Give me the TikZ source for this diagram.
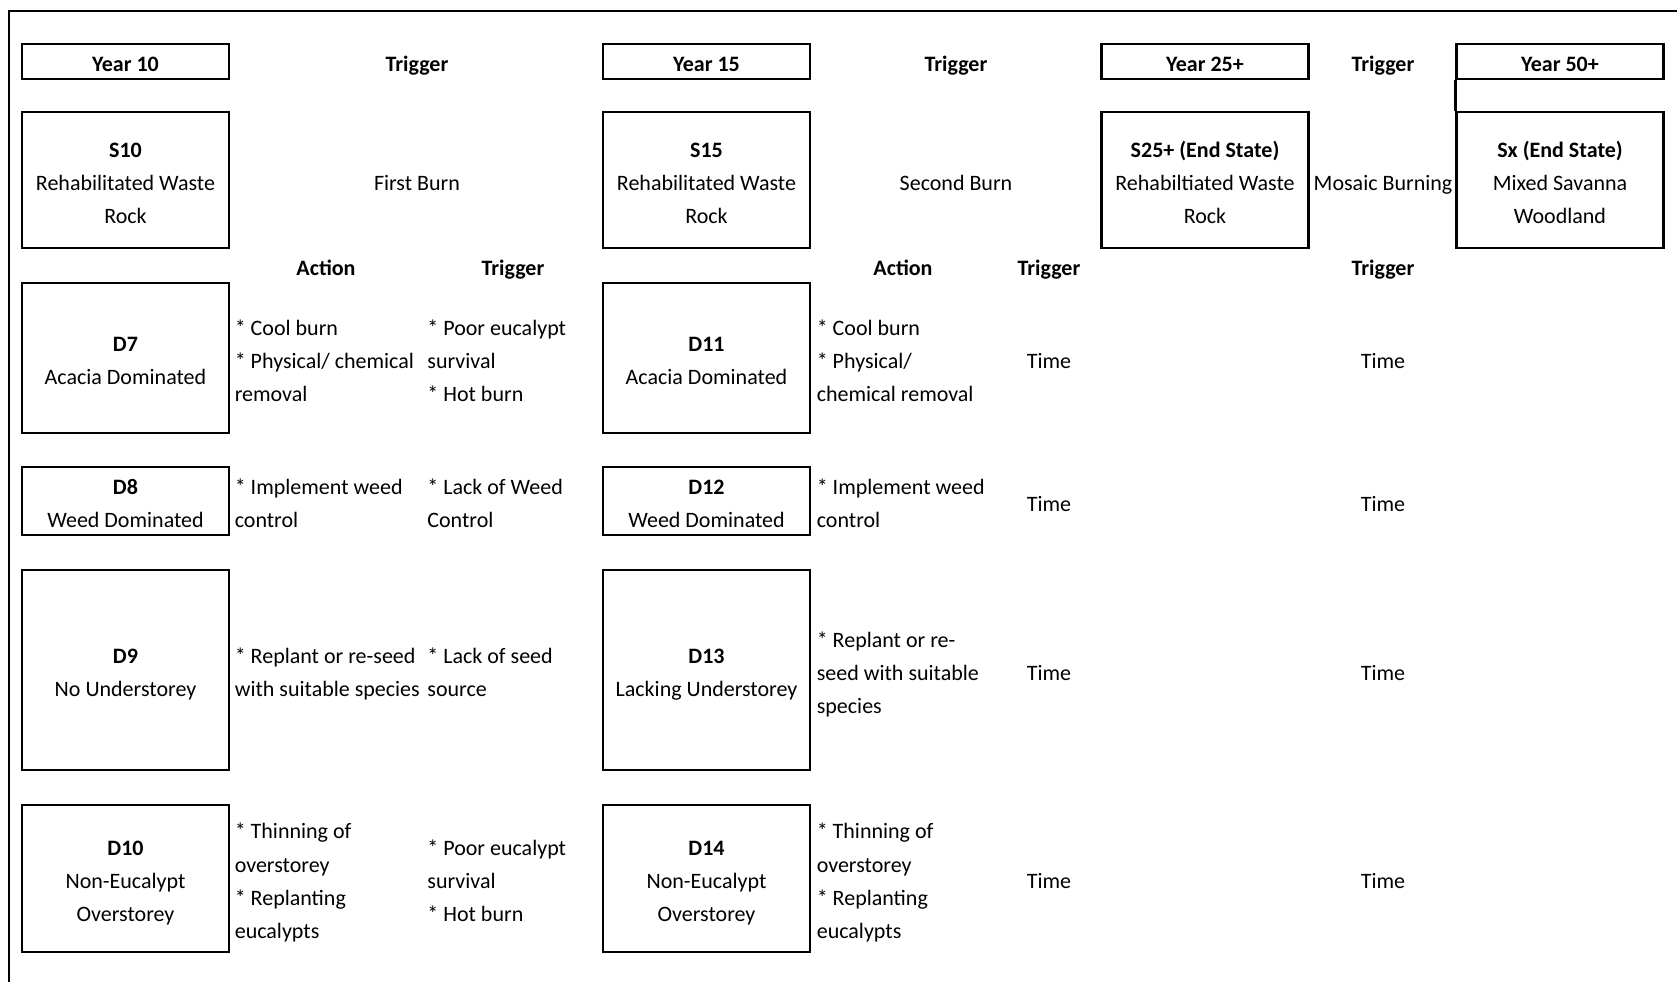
\documentclass[tikz,border=0pt]{standalone}
\usepackage{fontspec}
\setmainfont{Carlito}
\usetikzlibrary{positioning}

% rules at the top and the bottom of a cell, text set a little low
\newcommand{\celltext}[1]{\rule{0pt}{13.4pt}#1\rule[-3.2pt]{0pt}{3.2pt}}

\begin{document}
\begin{tikzpicture}[x=0.5pt,y=-0.5pt,
  txt/.style={inner sep=0pt,font=\fontsize{11}{16.6}\selectfont,align=center},
  hd/.style={txt,font=\fontsize{11}{16.6}\selectfont\bfseries},
  statebox/.style={txt,draw,line width=1.4pt,minimum width=103.5pt},
  yearbox/.style={statebox,hd,minimum height=17.5pt},
  note/.style={txt,align=left,anchor=west}]

\useasboundingbox (0,0) rectangle (1677,982);
\draw[line width=0.8pt] (1677,11) -| (9,982);

% years
\node[yearbox] (y10) at (125.5,61.5) {\celltext{Year 10}};
\node[yearbox] (y15) at (706.5,61.5) {\celltext{Year 15}};
\node[yearbox] (y25) at (1205,61.5) {\celltext{Year 25+}};
\node[yearbox] (y50) at (1560,61.5) {\celltext{Year 50+}};
\node[hd] (trg10) at (417,61) {\celltext{Trigger}};
\node[hd] (trg15) at (956,61) {\celltext{Trigger}};
\node[hd] (trg25) at (1383,61) {\celltext{Trigger}};

% states
\node[statebox,minimum height=68pt] (s10) at (125.5,180) {\celltext{\textbf{S10}\\Rehabilitated Waste\\Rock}};
\node[statebox,minimum height=68pt] (s15) at (706.5,180) {\celltext{\textbf{S15}\\Rehabilitated Waste\\Rock}};
\node[statebox,minimum height=68pt] (s25) at (1205,180) {\celltext{\textbf{S25+ (End State)}\\Rehabiltiated Waste\\Rock}};
\node[statebox,minimum height=68pt] (sx) at (1560,180) {\celltext{\textbf{Sx (End State)}\\Mixed Savanna\\Woodland}};
\draw[line width=1.4pt] (y50.south west) -- (sx.north west);
\node[txt] (burn1) at (417,180) {\celltext{First Burn}};
\node[txt] (burn2) at (956,180) {\celltext{Second Burn}};
\node[txt] (burn3) at (1383,180) {\celltext{Mosaic Burning}};

\node[hd] (actA) at (326,265) {\celltext{Action}};
\node[hd] (trgA) at (513,265) {\celltext{Trigger}};
\node[hd] (actB) at (903,265) {\celltext{Action}};
\node[hd] (trgB) at (1049,265) {\celltext{Trigger}};
\node[hd] (trgC) at (1383,265) {\celltext{Trigger}};

% degraded states, year 10
\node[statebox,minimum height=75pt] (d7) at (125.5,358) {\celltext{\textbf{D7}\\Acacia Dominated}};
\node[statebox,minimum height=34pt] (d8) at (125.5,501) {\celltext{\textbf{D8}\\Weed Dominated}};
\node[statebox,minimum height=100pt] (d9) at (125.5,670) {\celltext{\textbf{D9}\\No Understorey}};
\node[statebox,minimum height=73.5pt] (d10) at (125.5,878.5) {\celltext{\textbf{D10}\\Non-Eucalypt\\Overstorey}};

\node[note,right=2pt of d7] (act7) {\celltext{* Cool burn\\* Physical/ chemical\\removal}};
\node[note,right=2pt of d8] (act8) {\celltext{* Implement weed\\control}};
\node[note,right=2pt of d9] (act9) {\celltext{* Replant or re-seed\\with suitable species}};
\node[note,right=2pt of d10] (act10) {\celltext{* Thinning of\\overstorey\\* Replanting\\eucalypts}};

\node[note] (trg7) at (427,0 |- d7) {\celltext{* Poor eucalypt\\survival\\* Hot burn}};
\node[note] (trg8) at (427,0 |- d8) {\celltext{* Lack of Weed\\Control}};
\node[note] (trg9) at (427,0 |- d9) {\celltext{* Lack of seed\\source}};
\node[note] (trg10b) at (427,0 |- d10) {\celltext{* Poor eucalypt\\survival\\* Hot burn}};

% degraded states, year 15
\node[statebox,minimum height=75pt] (d11) at (706.5,358) {\celltext{\textbf{D11}\\Acacia Dominated}};
\node[statebox,minimum height=34pt] (d12) at (706.5,501) {\celltext{\textbf{D12}\\Weed Dominated}};
\node[statebox,minimum height=100pt] (d13) at (706.5,670) {\celltext{\textbf{D13}\\Lacking Understorey}};
\node[statebox,minimum height=73.5pt] (d14) at (706.5,878.5) {\celltext{\textbf{D14}\\Non-Eucalypt\\Overstorey}};

\node[note,right=2.5pt of d11] (act11) {\celltext{* Cool burn\\* Physical/\\chemical removal}};
\node[note,right=2.5pt of d12] (act12) {\celltext{* Implement weed\\control}};
\node[note,right=2.5pt of d13] (act13) {\celltext{* Replant or re-\\seed with suitable\\species}};
\node[note,right=2.5pt of d14] (act14) {\celltext{* Thinning of\\overstorey\\* Replanting\\eucalypts}};

\foreach \d in {11,12,13,14}{
  \node[txt] (time\d a) at (1049,0 |- d\d) {\celltext{Time}};
  \node[txt] (time\d b) at (1383,0 |- d\d) {\celltext{Time}};
}
\end{tikzpicture}
\end{document}
